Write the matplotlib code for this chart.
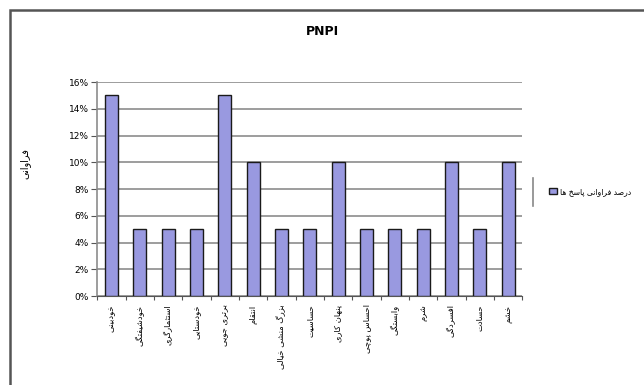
import matplotlib.pyplot as plt
from matplotlib.lines import Line2D
from matplotlib.patches import Rectangle
from matplotlib.ticker import PercentFormatter

# persian labels of the items and their share of answers (%)
items = ["خودبینی", "خودشیفتگی", "استثمارگری", "خودستایی", "برتری جویی",
         "انتقام", "بزرگ منشی خیالی", "حساسیت", "پنهان کاری", "احساس پوچی",
         "وابستگی", "شرم", "افسردگی", "حسادت", "خشم"]
percents = [15, 5, 5, 5, 15, 10, 5, 5, 10, 5, 5, 5, 10, 5, 10]
title = "PNPI"
ylabel = "فراوانی"
series_name = "درصد فراوانی پاسخ ها"

# presentation forms: isolated, final, initial, medial
forms = {
    "ا": (0xFE8D, 0xFE8E), "آ": (0xFE81, 0xFE82),
    "د": (0xFEA9, 0xFEAA), "ذ": (0xFEAB, 0xFEAC), "ر": (0xFEAD, 0xFEAE),
    "ز": (0xFEAF, 0xFEB0), "ژ": (0xFB8A, 0xFB8B), "و": (0xFEED, 0xFEEE),
    "ب": (0xFE8F, 0xFE90, 0xFE91, 0xFE92), "پ": (0xFB56, 0xFB57, 0xFB58, 0xFB59),
    "ت": (0xFE95, 0xFE96, 0xFE97, 0xFE98), "ث": (0xFE99, 0xFE9A, 0xFE9B, 0xFE9C),
    "ج": (0xFE9D, 0xFE9E, 0xFE9F, 0xFEA0), "چ": (0xFB7A, 0xFB7B, 0xFB7C, 0xFB7D),
    "ح": (0xFEA1, 0xFEA2, 0xFEA3, 0xFEA4), "خ": (0xFEA5, 0xFEA6, 0xFEA7, 0xFEA8),
    "س": (0xFEB1, 0xFEB2, 0xFEB3, 0xFEB4), "ش": (0xFEB5, 0xFEB6, 0xFEB7, 0xFEB8),
    "ص": (0xFEB9, 0xFEBA, 0xFEBB, 0xFEBC), "ض": (0xFEBD, 0xFEBE, 0xFEBF, 0xFEC0),
    "ط": (0xFEC1, 0xFEC2, 0xFEC3, 0xFEC4), "ظ": (0xFEC5, 0xFEC6, 0xFEC7, 0xFEC8),
    "ع": (0xFEC9, 0xFECA, 0xFECB, 0xFECC), "غ": (0xFECD, 0xFECE, 0xFECF, 0xFED0),
    "ف": (0xFED1, 0xFED2, 0xFED3, 0xFED4), "ق": (0xFED5, 0xFED6, 0xFED7, 0xFED8),
    "ک": (0xFB8E, 0xFB8F, 0xFB90, 0xFB91), "گ": (0xFB92, 0xFB93, 0xFB94, 0xFB95),
    "ل": (0xFEDD, 0xFEDE, 0xFEDF, 0xFEE0), "م": (0xFEE1, 0xFEE2, 0xFEE3, 0xFEE4),
    "ن": (0xFEE5, 0xFEE6, 0xFEE7, 0xFEE8), "ه": (0xFEE9, 0xFEEA, 0xFEEB, 0xFEEC),
    "ی": (0xFBFC, 0xFBFD, 0xFBFE, 0xFBFF),
}


def shape(text):
    # join letters and put them in visual (left to right) order
    out = []
    for i, ch in enumerate(text):
        if ch not in forms:
            out.append(ch)
            continue
        f = forms[ch]
        prev = text[i - 1] if i > 0 else ""
        nxt = text[i + 1] if i + 1 < len(text) else ""
        join_prev = prev in forms and len(forms[prev]) == 4
        join_next = nxt in forms and len(f) == 4
        if join_prev and join_next:
            out.append(chr(f[3]))
        elif join_prev:
            out.append(chr(f[1]))
        elif join_next:
            out.append(chr(f[2]))
        else:
            out.append(chr(f[0]))
    return "".join(reversed(out))


plt.rcParams['font.family'] = ['DejaVu Sans']

fig = plt.figure(figsize=(6.44, 3.85), dpi=100)
ax = fig.add_axes([0.151, 0.231, 0.660, 0.556])

x = range(len(items))
bars = ax.bar(x, percents, width=0.46, color="#9999e0", edgecolor="#1a1a1a",
              linewidth=1.0, zorder=3, label=shape(series_name))

ax.set_xlim(-0.5, len(items) - 0.5)
ax.set_ylim(0, 16)
ax.set_yticks(range(0, 17, 2))
ax.yaxis.set_major_formatter(PercentFormatter(decimals=0))
ax.yaxis.grid(True, color="#8c8c8c", linewidth=1.2, zorder=0)

ax.set_xticks([i - 0.5 for i in range(len(items) + 1)], minor=False)
ax.set_xticklabels([])
ax.set_xticks(list(x), minor=True)
ax.set_xticklabels([shape(s) for s in items], minor=True, rotation=90,
                   fontsize=6, va="top")
ax.tick_params(axis="x", which="minor", length=0, pad=6)
ax.tick_params(axis="x", which="major", length=3, color="#555555")
ax.tick_params(axis="y", length=4, labelsize=6.5, color="#555555", pad=2)

for side in ["top", "right"]:
    ax.spines[side].set_visible(False)
ax.spines["left"].set_color("#8c8c8c")
ax.spines["left"].set_linewidth(1.2)
ax.spines["bottom"].set_color("#555555")

ax.set_ylabel(shape(ylabel), fontsize=7)
ax.yaxis.set_label_coords(-0.158, 0.62)
fig.text(0.5, 0.918, title, ha="center", va="center", fontsize=9, fontweight="bold")

leg = ax.legend(loc="center left", bbox_to_anchor=(1.05, 0.49), frameon=False,
                fontsize=5.5, handlelength=1.0, handleheight=1.0, borderpad=0.2,
                handletextpad=0.4)
fig.add_artist(Line2D([533 / 644, 533 / 644], [1 - 178 / 385, 1 - 206 / 385],
                      color="#888888", linewidth=1.2))

# outer chart frame
fig.add_artist(Rectangle((10 / 644, -0.05), 1.0, 1 - 10 / 385 + 0.05, fill=False,
                         edgecolor="#555555", linewidth=1.8))

fig.savefig("out.png", dpi=100)
